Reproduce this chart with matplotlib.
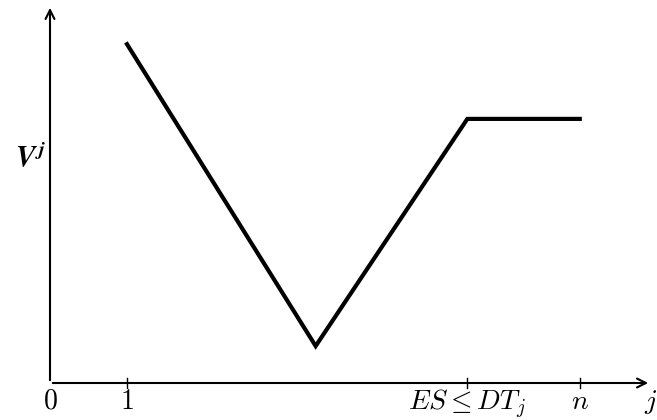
import matplotlib.pyplot as plt

plt.rcParams['mathtext.fontset'] = 'cm'
plt.rcParams['font.family'] = 'serif'
plt.rcParams['font.serif'] = ['DejaVu Serif']

# curve points (arbitrary units)
xs = [1, 3.45, 5.42, 6.88]
ys = [4.40, 0.48, 3.43, 3.43]
tick_pos = [0, 1, 5.42, 6.88]
tick_labels = [r'$0$', r'$1$', r'$ES \leq DT_j$', r'$n$']

fig = plt.figure(figsize=(6.57, 4.2), dpi=100)
ax = fig.add_axes([50 / 657, 37 / 420, 607 / 657, 378 / 420])
ax.set_xlim(0, 607 / 77)
ax.set_ylim(0, 378 / 77)
ax.axis('off')

ax.plot(xs, ys, color='black', lw=3, solid_joinstyle='miter', clip_on=False)

# axes with arrows
ax.annotate('', xy=(601 / 77, 0), xytext=(0, 0),
            arrowprops=dict(arrowstyle='->', lw=1.5, color='black', mutation_scale=16),
            annotation_clip=False)
ax.annotate('', xy=(0, 378 / 77), xytext=(0, 0),
            arrowprops=dict(arrowstyle='->', lw=1.5, color='black', mutation_scale=16),
            annotation_clip=False)

for p, lab in zip(tick_pos, tick_labels):
    if p > 0:
        ax.plot([p, p], [-0.06, 0.06], color='black', lw=1, clip_on=False)
    ax.text(p, -0.06, lab, ha='center', va='top', fontsize=20)

ax.text(594 / 77, -0.06, r'$j$', ha='left', va='top', fontsize=20)
ax.text(-0.05, (383 - 157) / 77, r'$\mathbfit{V}^{\,\mathbfit{j}}$',
        ha='right', va='center', fontsize=21)

fig.savefig('out.png', dpi=100)
